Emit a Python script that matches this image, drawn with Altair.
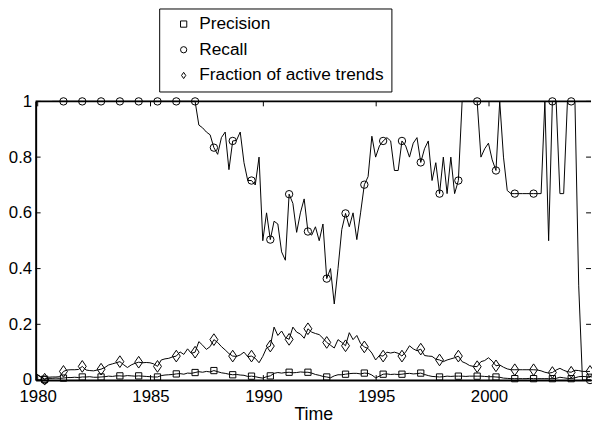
import altair as alt
import pandas as pd

# ---------------- data ----------------
T_START = 1979.975          # time of first sample (years)
T_STEP = 1 / 6              # two-month sampling
X_DOMAIN = [1979.91, 2004.52]
X_TICKS = [1980, 1985, 1990, 1995, 2000]
Y_TICKS = [0, 0.2, 0.4, 0.6, 0.8, 1]
SERIES = ["Precision", "Recall", "Fraction of active trends"]
SHAPES = ["square", "circle", "M0,-1L0.68,0L0,1L-0.68,0Z"]
MARKER_SIZES = [40, 56, 140]
MARKER_EVERY = 5
MARKER_FIRST = 2

PRECISION = [
    0.020, 0.010, 0.003, 0.006, 0.006, 0.007, 0.006, 0.007, 0.009, 0.009,
    0.010, 0.009, 0.011, 0.011, 0.012, 0.010, 0.010, 0.011, 0.012, 0.014,
    0.013, 0.015, 0.015, 0.014, 0.016, 0.015, 0.014, 0.015, 0.014, 0.013,
    0.012, 0.011, 0.011, 0.016, 0.018, 0.019, 0.020, 0.022, 0.023, 0.021,
    0.025, 0.024, 0.027, 0.030, 0.028, 0.031, 0.029, 0.034, 0.030, 0.026,
    0.024, 0.021, 0.019, 0.020, 0.018, 0.017, 0.013, 0.014, 0.012, 0.009,
    0.007, 0.012, 0.015, 0.024, 0.027, 0.025, 0.027, 0.028, 0.026, 0.027,
    0.029, 0.028, 0.028, 0.025, 0.020, 0.017, 0.013, 0.011, 0.008, 0.015,
    0.019, 0.019, 0.021, 0.023, 0.024, 0.024, 0.022, 0.025, 0.024, 0.018,
    0.008, 0.014, 0.021, 0.022, 0.020, 0.021, 0.020, 0.021, 0.023, 0.024,
    0.022, 0.023, 0.025, 0.020, 0.016, 0.013, 0.012, 0.011, 0.012, 0.014,
    0.013, 0.014, 0.014, 0.014, 0.013, 0.014, 0.014, 0.014, 0.014, 0.013,
    0.012, 0.012, 0.011, 0.010, 0.007, 0.006, 0.005, 0.005, 0.005, 0.005,
    0.005, 0.006, 0.005, 0.005, 0.005, 0.005, 0.005, 0.005, 0.006, 0.010,
    0.008, 0.006, 0.005, 0.008, 0.012, 0.013, 0.012, 0.010,
]

RECALL = [
    0.0, 0.0, 0.0, None, 1.0, 1.0, 1.0, 1.0, 1.0, 1.0,
    1.0, 1.0, 1.0, 1.0, 1.0, 1.0, 1.0, 1.0, 1.0, 1.0,
    1.0, 1.0, 1.0, 1.0, 1.0, 1.0, 1.0, 1.0, 1.0, 1.0,
    1.0, 1.0, 1.0, 1.0, 1.0, 1.0, 1.0, 1.0, 1.0, 1.0,
    1.0, 1.0, 1.0, 0.915, 0.905, 0.89, 0.88, 0.834, 0.81, 0.87,
    0.89, 0.755, 0.858, 0.86, 0.89, 0.78, 0.716, 0.716, 0.70, 0.80,
    0.50, 0.60, 0.504, 0.57, 0.56, 0.46, 0.43, 0.667, 0.634, 0.53,
    0.60, 0.65, 0.533, 0.52, 0.55, 0.50, 0.56, 0.364, 0.40, 0.273,
    0.40, 0.54, 0.598, 0.55, 0.60, 0.504, 0.60, 0.701, 0.73, 0.875,
    0.80, 0.84, 0.858, 0.87, 0.858, 0.752, 0.752, 0.858, 0.84, 0.80,
    0.85, 0.87, 0.781, 0.83, 0.858, 0.716, 0.78, 0.669, 0.80, 0.669,
    0.80, 0.669, 0.716, 1.0, 1.0, 1.0, 1.0, 1.0, 0.80, 0.83,
    0.85, 0.79, 0.752, 1.0, 0.80, 0.68, 0.669, 0.669, 0.669, 0.669,
    0.669, 0.669, 0.669, 0.669, 0.669, 1.0, 0.5, 1.0, 1.0, 0.669,
    0.669, 1.0, 1.0, 1.0, 0.338, 0.0, 0.0, 0.0,
]

FRACTION = [
    0.020, 0.012, 0.003, 0.010, 0.011, 0.011, 0.012, 0.031, 0.036, 0.037,
    0.037, 0.038, 0.049, 0.036, 0.034, 0.033, 0.036, 0.039, 0.045, 0.054,
    0.058, 0.062, 0.066, 0.055, 0.045, 0.054, 0.060, 0.064, 0.062, 0.063,
    0.062, 0.058, 0.049, 0.072, 0.076, 0.078, 0.083, 0.086, 0.101, 0.092,
    0.112, 0.096, 0.100, 0.138, 0.125, 0.110, 0.120, 0.145, 0.135, 0.120,
    0.108, 0.095, 0.086, 0.085, 0.090, 0.100, 0.084, 0.086, 0.078, 0.062,
    0.085, 0.115, 0.122, 0.190, 0.160, 0.176, 0.153, 0.146, 0.190, 0.172,
    0.165, 0.150, 0.184, 0.172, 0.167, 0.163, 0.150, 0.135, 0.125, 0.115,
    0.145, 0.135, 0.123, 0.170, 0.145, 0.160, 0.131, 0.119, 0.113, 0.097,
    0.072, 0.088, 0.086, 0.100, 0.097, 0.100, 0.096, 0.086, 0.101, 0.123,
    0.112, 0.105, 0.111, 0.088, 0.086, 0.085, 0.075, 0.072, 0.066, 0.072,
    0.076, 0.080, 0.086, 0.066, 0.060, 0.052, 0.049, 0.048, 0.066, 0.070,
    0.080, 0.068, 0.051, 0.054, 0.046, 0.040, 0.037, 0.037, 0.037, 0.037,
    0.037, 0.037, 0.037, 0.036, 0.033, 0.028, 0.025, 0.027, 0.036, 0.042,
    0.035, 0.030, 0.028, 0.035, 0.034, 0.031, 0.031, 0.031,
]

# ---------------- build tables ----------------
rows = []
for name, values in zip(SERIES, [PRECISION, RECALL, FRACTION]):
    seg = 0
    for j, v in enumerate(values):
        if v is None:
            seg += 1
            continue
        rows.append({
            "t": T_START + j * T_STEP,
            "v": v,
            "series": name,
            "seg": f"{name}-{seg}",
            "marker": (j % MARKER_EVERY) == MARKER_FIRST,
        })
df = pd.DataFrame(rows)
df_markers = df[df["marker"]].copy()

W, H = 562, 282
FONT = "Liberation Sans"

x_enc = alt.X(
    "t:Q",
    scale=alt.Scale(domain=X_DOMAIN, nice=False, zero=False),
    axis=alt.Axis(
        values=X_TICKS, format="d", ticks=False, tickSize=0, grid=False,
        domain=True, domainColor="black", domainWidth=2,
        labelFont=FONT, labelFontSize=17, labelColor="black",
        labelPadding=9, labelFlush=False, labelOverlap=False,
        title="Time", titleFont=FONT, titleFontSize=18,
        titleFontWeight="normal", titleColor="black",
        titleBaseline="top", titleY=26,
    ),
)
y_enc = alt.Y(
    "v:Q",
    scale=alt.Scale(domain=[0, 1], nice=False, zero=False),
    axis=alt.Axis(
        values=Y_TICKS, format="~g", ticks=False, tickSize=0, grid=False,
        domain=True, domainColor="black", domainWidth=2,
        labelFont=FONT, labelFontSize=17, labelColor="black",
        labelPadding=4, labelFlush=False, labelOverlap=False,
        title=None,
    ),
)

shape_enc = alt.Shape(
    "series:N",
    scale=alt.Scale(domain=SERIES, range=SHAPES),
    legend=alt.Legend(
        title=None, orient="none", legendX=125, legendY=-94,
        padding=7, strokeColor="black", fillColor="white",
        labelFont=FONT, labelFontSize=17.5, labelColor="black",
        labelLimit=400, labelOffset=7, rowPadding=7,
        symbolOffset=9, symbolSize=40, symbolStrokeColor="black",
        symbolStrokeWidth=1, symbolFillColor="white",
    ),
)

lines = alt.Chart(df).mark_line(color="black", strokeWidth=1).encode(
    x=x_enc, y=y_enc, detail="seg:N"
)

point_layers = []
for name, msize in zip(SERIES, MARKER_SIZES):
    point_layers.append(
        alt.Chart(df_markers[df_markers["series"] == name]).mark_point(
            filled=False, color="black", strokeWidth=1, opacity=1, size=msize
        ).encode(x=x_enc, y=y_enc, shape=shape_enc)
    )

ytick_df = pd.DataFrame({"v": Y_TICKS})
xtick_df = pd.DataFrame({"t": X_TICKS})

left_ticks = alt.Chart(ytick_df).mark_rule(color="black", strokeWidth=1).encode(
    y=y_enc, x=alt.value(0), x2=alt.value(5)
)
right_ticks = alt.Chart(ytick_df).mark_rule(color="black", strokeWidth=1).encode(
    y=y_enc, x=alt.value(W - 5), x2=alt.value(W)
)
top_ticks = alt.Chart(xtick_df).mark_rule(color="black", strokeWidth=1).encode(
    x=x_enc, y=alt.value(0), y2=alt.value(5)
)
bottom_ticks = alt.Chart(xtick_df).mark_rule(color="black", strokeWidth=1).encode(
    x=x_enc, y=alt.value(H - 5), y2=alt.value(H)
)
top_line = alt.Chart(pd.DataFrame({"a": [0]})).mark_rule(
    color="black", strokeWidth=2
).encode(x=alt.value(0), x2=alt.value(W), y=alt.value(0))

chart = alt.layer(
    lines, *point_layers, left_ticks, right_ticks, top_ticks, bottom_ticks, top_line
).properties(
    width=W,
    height=H,
    padding={"left": 28, "top": 92, "right": 1, "bottom": 44},
    autosize=alt.AutoSizeParams(type="none"),
    background="white",
).configure_view(stroke=None)

chart.save("out.html", embed_options={"renderer": "svg", "actions": False})
